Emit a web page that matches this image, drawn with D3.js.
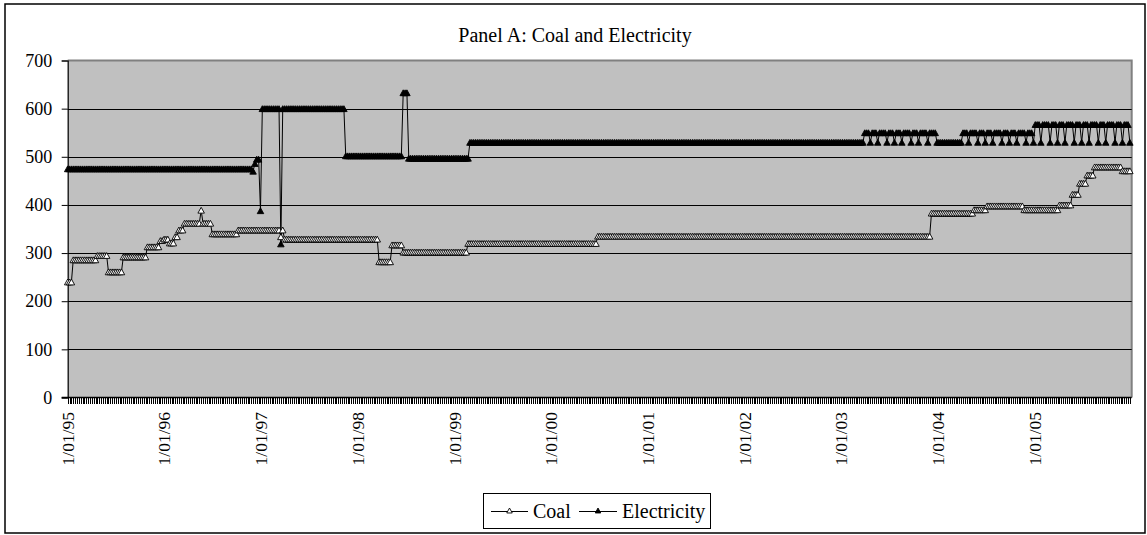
<!DOCTYPE html>
<html><head><meta charset="utf-8">
<script src="https://cdn.jsdelivr.net/npm/d3@7/dist/d3.min.js"></script>
<style>
body{margin:0;background:#fff}
svg{display:block}
svg text{font-family:"Liberation Serif","Times New Roman","DejaVu Serif",serif !important;fill:#000}
</style>
</head><body>
<svg id="chart" width="1147" height="535"></svg>
<script>
// ---------------- data ----------------
const titleText = "Panel A: Coal and Electricity";
const seriesNames = ["Coal", "Electricity"];
const firstWeek = "1995-01-01";
const axisEnd = "2006-01-01";
const yTicks = [0, 100, 200, 300, 400, 500, 600, 700];
const xLabelYears = [1995, 1996, 1997, 1998, 1999, 2000, 2001, 2002, 2003, 2004, 2005];
const xLabels = ["1/01/95", "1/01/96", "1/01/97", "1/01/98", "1/01/99", "1/01/00", "1/01/01", "1/01/02", "1/01/03", "1/01/04", "1/01/05"];

// weekly observations, stored as runs: level held for N consecutive weeks
const coalLevels = [240, 286, 295, 261, 292, 313, 326, 329, 321, 334, 348, 362, 389, 362, 340, 348, 334, 348, 329, 282, 317, 302, 320, 335, 383, 390, 398, 390, 400, 422, 445, 462, 479, 471];
const coalWeeks  = [3,   13,  6,   8,   13,  7,   2,   3,   3,   2,   3,   9,   1,   5,   14,  23,  1,   1,   51,  7,   6,   35,  70,  180, 23,  7,   20,  19,  7,   4,   4,   4,   15,  5];

const elecLevels = [475, 470, 486, 495, 388, 600, 319, 600, 502, 633, 497, 530,
  550, 530, 550, 530, 550, 530, 550, 530, 550, 530, 550, 530, 550, 530, 550, 530, 550, 530,
  530,
  550, 530, 550, 530, 550, 530, 550, 530, 550, 530, 550, 530, 550, 530, 550, 530, 550, 530,
  567, 530, 567, 530, 567, 530, 567, 530, 567, 530, 567, 530, 567, 530, 567, 530, 567, 530, 567, 530, 567, 530, 567, 530];
const elecWeeks = [100, 1, 1, 2, 1, 10, 1, 34, 31, 3, 33, 213,
  3, 1, 3, 1, 4, 1, 3, 1, 3, 1, 4, 1, 3, 1, 4, 1, 4, 1,
  13,
  3, 1, 4, 1, 3, 1, 3, 1, 4, 1, 3, 1, 3, 1, 4, 1, 3, 1,
  3, 1, 4, 1, 3, 1, 3, 1, 4, 1, 3, 1, 3, 1, 4, 1, 3, 1, 4, 1, 3, 1, 3, 1];

// ---------------- build ----------------
const FONT = '"Liberation Serif","Times New Roman","DejaVu Serif",serif';
const parse = d3.timeParse("%Y-%m-%d");
const weeks = d3.timeWeek.range(parse(firstWeek), parse(axisEnd));
function expand(levels, runs) {
  const out = [];
  levels.forEach((v, i) => { for (let k = 0; k < runs[i]; k++) out.push(v); });
  return out;
}
const coalVals = expand(coalLevels, coalWeeks);
const elecVals = expand(elecLevels, elecWeeks);
const n = Math.min(weeks.length, coalVals.length, elecVals.length);
const coal = d3.range(n).map(i => ({date: weeks[i], v: coalVals[i]}));
const elec = d3.range(n).map(i => ({date: weeks[i], v: elecVals[i]}));

const svg = d3.select("#chart");
const plot = {l: 67.7, r: 1131.7, t: 60.5, b: 397.5};

// outer frame
svg.append("rect").attr("x", 5).attr("y", 4).attr("width", 1140).attr("height", 529)
  .attr("fill", "#fff").attr("stroke", "#000").attr("stroke-width", 1.5);

const x = d3.scaleTime().domain([parse(firstWeek), parse(axisEnd)]).range([plot.l, plot.r]);
const y = d3.scaleLinear().domain([0, 700]).range([plot.b, plot.t]);

// plot area
svg.append("rect").attr("x", plot.l).attr("y", plot.t)
  .attr("width", plot.r - plot.l).attr("height", plot.b - plot.t)
  .attr("fill", "#c0c0c0");
svg.append("path").attr("d", `M${plot.l},${plot.t}H${plot.r}V${plot.b}`)
  .attr("fill", "none").attr("stroke", "#808080").attr("stroke-width", 2);

// gridlines
svg.append("g").selectAll("line").data(yTicks.filter(t => t > 0 && t < 700)).join("line")
  .attr("x1", plot.l).attr("x2", plot.r)
  .attr("y1", d => Math.round(y(d)) + 0.5).attr("y2", d => Math.round(y(d)) + 0.5)
  .attr("stroke", "#000").attr("stroke-width", 1);

// y axis
const yAxis = d3.axisLeft(y).tickValues(yTicks).tickSize(6).tickPadding(9.5).tickFormat(d3.format("d"));
const gy = svg.append("g").attr("transform", `translate(${plot.l},0)`).call(yAxis);
gy.attr("font-family", null);
gy.select(".domain").attr("stroke", "#000").attr("stroke-width", 1.2);
gy.selectAll(".tick line").attr("stroke", "#000");
gy.selectAll("text").style("font-family", FONT).style("font-size", "18px").attr("fill", "#000");

// x axis: a tick on every week, labels on each new year
const gx = svg.append("g");
gx.selectAll("line").data(weeks.slice(0, n)).join("line")
  .attr("x1", d => Math.round(x(d)) + 0.5).attr("x2", d => Math.round(x(d)) + 0.5)
  .attr("y1", plot.b).attr("y2", plot.b + 6)
  .attr("stroke", "#000").attr("stroke-width", 1).attr("shape-rendering", "crispEdges");
gx.append("line").attr("x1", plot.l - 6).attr("x2", plot.r).attr("y1", plot.b).attr("y2", plot.b)
  .attr("stroke", "#000").attr("stroke-width", 1.5);

svg.append("g").selectAll("text").data(xLabelYears).join("text")
  .attr("transform", d => `translate(${x(new Date(d, 0, 1))},412) rotate(-90)`)
  .attr("text-anchor", "end").attr("dy", "0.34em")
  .style("font-family", FONT).style("font-size", "17.5px")
  .text((d, i) => xLabels[i]);

// series lines
const line = d3.line().x(d => x(d.date)).y(d => y(d.v));
svg.append("path").datum(coal).attr("d", line).attr("fill", "none").attr("stroke", "#000").attr("stroke-width", 1);
svg.append("path").datum(elec).attr("d", line).attr("fill", "none").attr("stroke", "#000").attr("stroke-width", 1);

// markers
function tri(cx, cy, s) {
  const h = s * 0.9;
  return `M${cx},${cy - h / 2}L${cx + s / 2},${cy + h / 2}L${cx - s / 2},${cy + h / 2}Z`;
}
svg.append("g").selectAll("path").data(coal).join("path")
  .attr("d", d => tri(x(d.date), y(d.v), 6.5))
  .attr("fill", "#fff").attr("stroke", "#000").attr("stroke-width", 0.9);
svg.append("g").selectAll("path").data(elec).join("path")
  .attr("d", d => tri(x(d.date), y(d.v), 6.5))
  .attr("fill", "#000").attr("stroke", "#000").attr("stroke-width", 0.9);

// title
svg.append("text").attr("x", 575).attr("y", 41.5).attr("text-anchor", "middle")
  .style("font-family", FONT).style("font-size", "20px").text(titleText);

// legend
const lg = svg.append("g");
lg.append("rect").attr("x", 483.5).attr("y", 493.5).attr("width", 227).attr("height", 35)
  .attr("fill", "#fff").attr("stroke", "#000").attr("stroke-width", 1);
const legendItems = [
  {name: seriesNames[0], x0: 491, x1: 528, tx: 533, fill: "#fff"},
  {name: seriesNames[1], x0: 579, x1: 617, tx: 622, fill: "#000"}
];
legendItems.forEach(it => {
  lg.append("line").attr("x1", it.x0).attr("x2", it.x1).attr("y1", 511.5).attr("y2", 511.5)
    .attr("stroke", "#000").attr("stroke-width", 1.2);
  lg.append("path").attr("d", tri((it.x0 + it.x1) / 2, 510.5, 5.5))
    .attr("fill", it.fill).attr("stroke", "#000").attr("stroke-width", 0.9);
  lg.append("text").attr("x", it.tx).attr("y", 518)
    .style("font-family", FONT).style("font-size", "20px").text(it.name);
});
</script>
</body></html>
